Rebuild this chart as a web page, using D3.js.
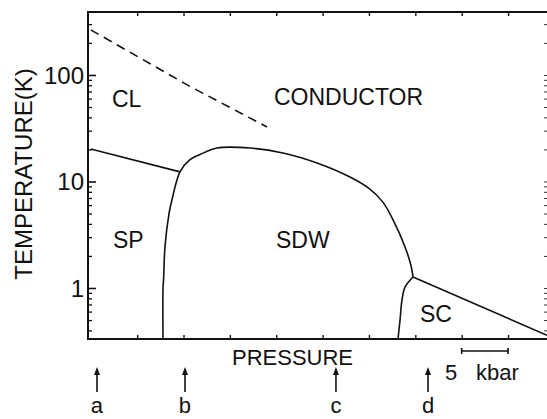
<!DOCTYPE html>
<html>
<head>
<meta charset="utf-8">
<script src="https://cdn.jsdelivr.net/npm/d3@7"></script>
<style>
  html, body { margin: 0; padding: 0; background: #fff; }
  svg { display: block; }
  text { font-family: "Liberation Sans", Arial, sans-serif; fill: #111; }
</style>
</head>
<body>
<svg id="chart" width="547" height="419"></svg>
<script>
// ---- data (pressure in kbar, temperature in K) ----
const crossoverP = [0, 10.7, 19.0];
const crossoverT = [265, 78, 32.5];

const spLineP = [0, 9.62];
const spLineT = [20.2, 12.3];

const sdwP = [7.79, 7.79, 7.85, 8.0, 8.45, 8.75, 9.62, 10.7, 11.78, 13.61, 17.17, 20.73, 24.4, 27.95, 30.0, 31.5, 32.6, 33.89, 34.55, 34.75];
const sdwT = [0.332, 1.0, 1.2, 2.43, 5.06, 6.7, 12.3, 16.0, 17.9, 20.6, 20.6, 18.5, 14.9, 11.0, 8.6, 6.4, 4.35, 2.43, 1.6, 1.27];

const scDomeP = [34.75, 33.89, 33.56, 33.35, 33.13];
const scDomeT = [1.27, 1.02, 0.77, 0.5, 0.332];

const scLineP = [34.75, 49.2];
const scLineT = [1.27, 0.36];

const majorTicksT = [1, 10, 100];
const majorTickLabels = ["1", "10", "100"];
const minorTicksT = [0.4, 0.5, 0.6, 0.7, 0.8, 0.9, 2, 3, 4, 5, 6, 7, 8, 9, 20, 30, 40, 50, 60, 70, 80, 90, 200, 300];
const pressureTicks = [5, 10, 15, 20, 25, 30, 35, 40, 45];

const sampleLabels = ["a", "b", "c", "d"];
const sampleP = [0.67, 10.16, 26.44, 36.37];

const scaleBarP = [40, 45];

const regionLabels = ["CL", "CONDUCTOR", "SP", "SDW", "SC"];

// ---- layout ----
const svg = d3.select("#chart");
const pL = 88, pR = 547, pT = 12, pB = 339;

const x = d3.scaleLinear().domain([-0.3, 49.2]).range([pL, pR]);
const y = d3.scaleLog().domain([0.332, 390]).range([pB, pT]);

const zip = (P, T) => P.map((p, i) => [p, T[i]]);
const line = d3.line().x(d => x(d[0])).y(d => y(d[1]));
const smooth = d3.line().x(d => x(d[0])).y(d => y(d[1])).curve(d3.curveCatmullRom.alpha(0.5));

const g = svg.append("g");

// frame
g.append("path")
  .attr("d", `M${pR},${pT}H${pL}V${pB}H${pR}`)
  .attr("fill", "none").attr("stroke", "#111").attr("stroke-width", 2);

// y ticks (inward)
const yAxisL = d3.axisRight(y).tickValues(majorTicksT).tickSize(8).tickFormat("");
g.append("g").attr("transform", `translate(${pL},0)`).call(yAxisL)
  .call(s => s.select(".domain").remove())
  .selectAll("line").attr("stroke", "#111").attr("stroke-width", 1.6);
const yMinorL = d3.axisRight(y).tickValues(minorTicksT).tickSize(4).tickFormat("");
g.append("g").attr("transform", `translate(${pL},0)`).call(yMinorL)
  .call(s => s.select(".domain").remove())
  .selectAll("line").attr("stroke", "#111").attr("stroke-width", 1.3);
// right side ticks (mostly clipped at the edge)
const yAxisR = d3.axisLeft(y).tickValues(majorTicksT.concat(minorTicksT)).tickSize(3).tickFormat("");
g.append("g").attr("transform", `translate(${pR},0)`).call(yAxisR)
  .call(s => s.select(".domain").remove())
  .selectAll("line").attr("stroke", "#333").attr("stroke-width", 1);

// y tick labels
g.selectAll(".ylab").data(majorTicksT).enter().append("text")
  .attr("x", pL - 4).attr("y", d => y(d))
  .attr("dy", "0.36em").attr("text-anchor", "end")
  .style("font-size", "24px")
  .text((d, i) => majorTickLabels[i]);

// x ticks bottom (inward) and top (inward)
const xBottom = d3.axisTop(x).tickValues(pressureTicks).tickSize(4).tickFormat("");
g.append("g").attr("transform", `translate(0,${pB})`).call(xBottom)
  .call(s => s.select(".domain").remove())
  .selectAll("line").attr("stroke", "#111").attr("stroke-width", 1.4);
const xTop = d3.axisBottom(x).tickValues(pressureTicks).tickSize(4).tickFormat("");
g.append("g").attr("transform", `translate(0,${pT})`).call(xTop)
  .call(s => s.select(".domain").remove())
  .selectAll("line").attr("stroke", "#111").attr("stroke-width", 1.4);

// phase boundaries
g.append("path").datum(zip(crossoverP, crossoverT)).attr("d", line)
  .attr("fill", "none").attr("stroke", "#111").attr("stroke-width", 1.6)
  .attr("stroke-dasharray", "9,6");
g.append("path").datum(zip(spLineP, spLineT)).attr("d", line)
  .attr("fill", "none").attr("stroke", "#111").attr("stroke-width", 1.6);
g.append("path").datum(zip(sdwP, sdwT)).attr("d", smooth)
  .attr("fill", "none").attr("stroke", "#111").attr("stroke-width", 1.6);
g.append("path").datum(zip(scDomeP, scDomeT)).attr("d", smooth)
  .attr("fill", "none").attr("stroke", "#111").attr("stroke-width", 1.6);
g.append("path").datum(zip(scLineP, scLineT)).attr("d", line)
  .attr("fill", "none").attr("stroke", "#111").attr("stroke-width", 1.6);

// region labels
const regionPos = [[112, 107], [274, 105], [113, 248], [276, 248], [420, 322]];
g.selectAll(".reg").data(regionLabels).enter().append("text")
  .attr("x", (d, i) => regionPos[i][0]).attr("y", (d, i) => regionPos[i][1])
  .style("font-size", "23px")
  .text(d => d);

// axis titles
g.append("text").attr("x", 232).attr("y", 365).style("font-size", "22px").text("PRESSURE");
g.append("text")
  .attr("transform", "translate(32,174) rotate(-90)")
  .attr("text-anchor", "middle")
  .style("font-size", "24px")
  .text("TEMPERATURE(K)");

// scale bar
const sbY = 351;
g.append("path")
  .attr("d", `M${x(scaleBarP[0])},${sbY}H${x(scaleBarP[1])}M${x(scaleBarP[0])},${sbY - 3}V${sbY + 3}M${x(scaleBarP[1])},${sbY - 3}V${sbY + 3}`)
  .attr("fill", "none").attr("stroke", "#111").attr("stroke-width", 1.6);
g.append("text").attr("x", 445).attr("y", 380).style("font-size", "22px").text("5");
g.append("text").attr("x", 476).attr("y", 380).style("font-size", "22px").text("kbar");

// sample arrows
const arr = g.selectAll(".arr").data(sampleP).enter().append("g");
arr.append("line")
  .attr("x1", d => x(d)).attr("x2", d => x(d))
  .attr("y1", 392).attr("y2", 372)
  .attr("stroke", "#111").attr("stroke-width", 1.6);
arr.append("path")
  .attr("d", d => `M${x(d)},367L${x(d) - 3},375L${x(d) + 3},375Z`)
  .attr("fill", "#111");
arr.append("text")
  .attr("x", d => x(d)).attr("y", 413)
  .attr("text-anchor", "middle")
  .style("font-size", "22px")
  .text((d, i) => sampleLabels[i]);
</script>
</body>
</html>
